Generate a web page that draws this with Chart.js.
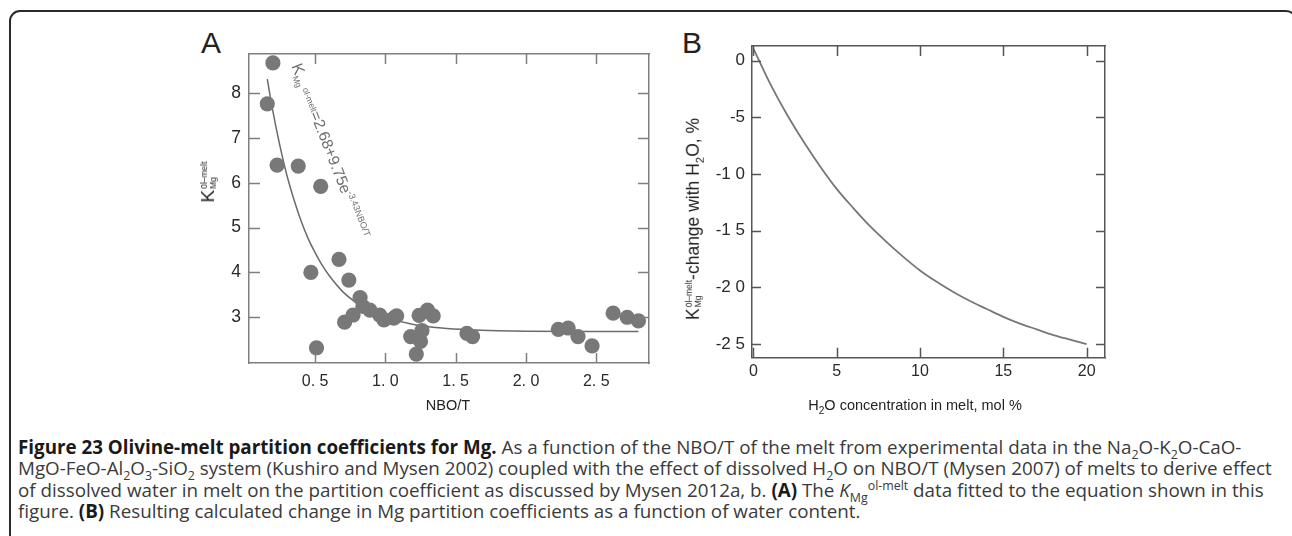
<!DOCTYPE html>
<html>
<head>
<meta charset="utf-8">
<script src="https://cdn.jsdelivr.net/npm/chart.js@4.4.0/dist/chart.umd.min.js"></script>
<style>
  html, body { margin: 0; padding: 0; background: #fff; }
  body { width: 1292px; height: 536px; position: relative; overflow: hidden; font-family: "Liberation Sans", Arial, sans-serif; color: #222; }
  #frame { position: absolute; left: 9px; top: 10px; width: 1288px; height: 700px; border: 2px solid #2a2a2a; border-radius: 11px; box-sizing: border-box; }
  #boxA { position: absolute; left: 180px; top: 20px; width: 500px; height: 400px; }
  #boxB { position: absolute; left: 660px; top: 10px; width: 480px; height: 420px; }
  .plab { position: absolute; font-size: 30px; line-height: 30px; color: #222; }
  .ytitle { position: absolute; transform: translate(-50%, -50%) rotate(-90deg); white-space: nowrap; line-height: 1; color: #222; }
  .stk { display: inline-flex; flex-direction: column; font-size: 8.5px; line-height: 9px; vertical-align: middle; margin-left: 1px; }
  .xtitle { position: absolute; width: 400px; text-align: center; line-height: 16px; color: #222; white-space: nowrap; }
  .xtitle sub { font-size: 0.7em; line-height: 0; }
  .ytitle sub { font-size: 0.65em; line-height: 0; }
  #caption { position: absolute; left: 18px; top: 437px; font-family: "Open Sans", "Noto Sans", sans-serif; font-size: 18.8px; line-height: 21.4px; color: #3a3a3a; white-space: nowrap; }
  #caption b { color: #1a1a1a; }
  #caption sub, #caption sup { font-size: 0.66em; line-height: 0; }
</style>
</head>
<body>
<div id="frame"></div>

<div class="plab" style="left:201px; top:28px;">A</div>
<div class="plab" style="left:682px; top:28px;">B</div>

<div id="boxA"><canvas id="chartA" width="500" height="400"></canvas></div>
<div id="boxB"><canvas id="chartB" width="480" height="420"></canvas></div>

<div class="ytitle" style="left:208px; top:182px; font-size:19px;">K<span class="stk"><span>0l–melt</span><span>Mg</span></span></div>
<div class="ytitle" style="left:694px; top:219px; font-size:17.5px;">K<span class="stk"><span>0l–melt</span><span>Mg</span></span>-change with H<sub>2</sub>O, %</div>

<div class="xtitle" style="left:248px; top:397px; font-size:14.5px;">NBO/T</div>
<div class="xtitle" style="left:715px; top:397px; font-size:14.5px;">H<sub>2</sub>O concentration in melt, mol %</div>

<div id="caption">
<b>Figure 23 Olivine-melt partition coefficients for Mg.</b> As a function of the NBO/T of the melt from experimental data in the Na<sub>2</sub>O-K<sub>2</sub>O-CaO-<br>
MgO-FeO-Al<sub>2</sub>O<sub>3</sub>-SiO<sub>2</sub> system (Kushiro and Mysen 2002) coupled with the effect of dissolved H<sub>2</sub>O on NBO/T (Mysen 2007) of melts to derive effect<br>
of dissolved water in melt on the partition coefficient as discussed by Mysen 2012a, b. <b>(A)</b> The <i>K</i><sub>Mg</sub><sup>ol-melt</sup> data fitted to the equation shown in this<br>
figure. <b>(B)</b> Resulting calculated change in Mg partition coefficients as a function of water content.
</div>

<script>
// ---- panel A: measured K_Mg (ol-melt) against NBO/T of the melt
var nboT = [0.20, 0.16, 0.23, 0.38, 0.54, 0.47, 0.67, 0.74, 0.51, 0.71, 0.77, 0.82, 0.84, 0.89, 0.96, 0.99, 1.06, 1.08,
            1.24, 1.30, 1.34, 1.26, 1.18, 1.25, 1.22, 1.58, 1.62, 2.23, 2.30, 2.37, 2.47, 2.62, 2.72, 2.80];
var kMg  = [8.67, 7.76, 6.39, 6.37, 5.92, 4.00, 4.29, 3.83, 2.32, 2.89, 3.05, 3.44, 3.24, 3.16, 3.05, 2.94, 2.98, 3.03,
            3.04, 3.16, 3.03, 2.70, 2.57, 2.46, 2.18, 2.64, 2.57, 2.73, 2.76, 2.57, 2.36, 3.09, 3.00, 2.92];

// fitted curve as drawn (K = 2.68 + 9.75 e^(-3.43 NBO/T))
var fitX = [0.16, 0.20, 0.25, 0.30, 0.35, 0.40, 0.45, 0.50, 0.55, 0.60, 0.70, 0.80, 0.90, 1.00, 1.20, 1.40, 1.60, 1.80, 2.00, 2.40, 2.80];
var fitY = [8.31, 7.59, 6.82, 6.16, 5.62, 5.15, 4.76, 4.44, 4.16, 3.93, 3.56, 3.31, 3.12, 3.00, 2.84, 2.76, 2.72, 2.70, 2.69, 2.68, 2.68];

var xTicksA = [0.5, 1.0, 1.5, 2.0, 2.5];
var xLabelsA = ["0. 5", "1. 0", "1. 5", "2. 0", "2. 5"];
var yTicksA = [3, 4, 5, 6, 7, 8];
var yLabelsA = ["3", "4", "5", "6", "7", "8"];

// ---- panel B: change of K_Mg with dissolved water
var h2o = [0, 1, 2, 3, 4, 5, 6, 7, 8, 9, 10, 11, 12, 13, 14, 15, 16, 17, 18, 19, 20];
var dK  = [1.1, -2.0, -4.7, -7.1, -9.3, -11.3, -13.0, -14.6, -16.0, -17.3, -18.5, -19.5, -20.4, -21.2, -21.9, -22.6, -23.2, -23.7, -24.2, -24.6, -25.0];

var xTicksB = [0, 5, 10, 15, 20];
var xLabelsB = ["0", "5", "10", "15", "20"];
var yTicksB = [0, -5, -10, -15, -20, -25];
var yLabelsB = ["0", "-5", "-1 0", "-1 5", "-2 0", "-2 5"];

var FONT = '"Liberation Sans", Arial, sans-serif';

// tick marks pointing into the plot, on all four sides
var inwardTicks = {
  id: "inwardTicks",
  afterDraw: function (chart, args, o) {
    var ctx = chart.ctx, a = chart.chartArea, x = chart.scales.x, y = chart.scales.y;
    ctx.save();
    ctx.strokeStyle = o.color;
    ctx.lineWidth = o.width;
    ctx.beginPath();
    x.ticks.forEach(function (t) {
      var px = Math.round(x.getPixelForValue(t.value)) + 0.5;
      ctx.moveTo(px, a.bottom); ctx.lineTo(px, a.bottom - o.lenX);
      ctx.moveTo(px, a.top); ctx.lineTo(px, a.top + o.lenX);
    });
    y.ticks.forEach(function (t) {
      var py = Math.round(y.getPixelForValue(t.value)) + 0.5;
      ctx.moveTo(a.left, py); ctx.lineTo(a.left + o.lenY, py);
      ctx.moveTo(a.right, py); ctx.lineTo(a.right - o.lenY, py);
    });
    ctx.stroke();
    ctx.restore();
  }
};

// equation written along the fitted curve
var fitLabel = {
  id: "fitLabel",
  afterDatasetsDraw: function (chart, args, o) {
    if (!o.parts) return;
    var ctx = chart.ctx;
    var px = chart.scales.x.getPixelForValue(o.at[0]);
    var py = chart.scales.y.getPixelForValue(o.at[1]);
    ctx.save();
    ctx.translate(px, py);
    ctx.rotate(o.angle * Math.PI / 180);
    ctx.fillStyle = o.color;
    ctx.textBaseline = "alphabetic";
    var cx = 0;
    o.parts.forEach(function (p) {
      ctx.font = p.size + "px " + FONT;
      ctx.fillText(p.text, cx, p.dy);
      cx += ctx.measureText(p.text).width + (p.gap || 0);
    });
    ctx.restore();
  }
};

function fixedTicks(vals) {
  return function (s) { s.ticks = vals.map(function (v) { return { value: v }; }); };
}

function frameAxis(pos, min, max, color) {
  return {
    type: "linear", position: pos, min: min, max: max,
    ticks: { display: false },
    grid: { display: true, drawOnChartArea: false, drawTicks: false },
    border: { color: color, width: 1.5 },
    afterFit: function (s) { if (pos === "top") s.height = 0; else s.width = 0; }
  };
}

// ---------------- chart A
new Chart(document.getElementById("chartA"), {
  type: "scatter",
  data: {
    datasets: [
      {
        label: "K_Mg",
        data: nboT.map(function (v, i) { return { x: v, y: kMg[i] }; }),
        pointRadius: 7.6,
        pointBackgroundColor: "#787878",
        pointBorderWidth: 0,
        order: 1
      },
      {
        type: "line",
        label: "fit",
        data: fitX.map(function (v, i) { return { x: v, y: fitY[i] }; }),
        borderColor: "#6b6b6b",
        borderWidth: 1.5,
        pointRadius: 0,
        fill: false,
        cubicInterpolationMode: "monotone",
        order: 2
      }
    ]
  },
  options: {
    responsive: false,
    animation: false,
    devicePixelRatio: 1,
    layout: { padding: { top: 34, right: 31, left: 0, bottom: 0 } },
    plugins: {
      legend: { display: false },
      tooltip: { enabled: false },
      inwardTicks: { color: "#7f7f7f", width: 1.5, lenX: 10, lenY: 11 },
      fitLabel: {
        at: [0.33, 8.6], angle: 68.5, color: "#6e6e6e",
        parts: [
          { text: "K", size: 16, dy: 0 },
          { text: "Mg", size: 8.5, dy: 3, gap: 3 },
          { text: "ol-melt", size: 8.5, dy: -2 },
          { text: "=2.68+9.75e", size: 15.5, dy: 0 },
          { text: "-3.43NBO/T", size: 9, dy: -6 }
        ]
      }
    },
    scales: {
      x: {
        type: "linear", position: "bottom", min: 0.03, max: 2.875,
        afterBuildTicks: fixedTicks(xTicksA),
        afterFit: function (s) { s.height = 57; },
        ticks: {
          autoSkip: false, maxRotation: 0, padding: 9, color: "#2a2a2a",
          font: { family: FONT, size: 16 },
          callback: function (v, i) { return xLabelsA[i]; }
        },
        grid: { display: true, drawOnChartArea: false, drawTicks: false },
        border: { color: "#7f7f7f", width: 1.5 }
      },
      y: {
        type: "linear", position: "left", min: 1.98, max: 8.87,
        afterBuildTicks: fixedTicks(yTicksA),
        afterFit: function (s) { s.width = 69; },
        ticks: {
          autoSkip: false, padding: 8, color: "#2a2a2a",
          font: { family: FONT, size: 17.5 },
          callback: function (v, i) { return yLabelsA[i]; }
        },
        grid: { display: true, drawOnChartArea: false, drawTicks: false },
        border: { color: "#7f7f7f", width: 1.5 }
      },
      x2: frameAxis("top", 0.03, 2.875, "#7f7f7f"),
      y2: frameAxis("right", 1.98, 8.87, "#7f7f7f")
    }
  },
  plugins: [inwardTicks, fitLabel]
});

// ---------------- chart B
new Chart(document.getElementById("chartB"), {
  type: "line",
  data: {
    datasets: [
      {
        label: "change",
        data: h2o.map(function (v, i) { return { x: v, y: dK[i] }; }),
        borderColor: "#777777",
        borderWidth: 1.8,
        pointRadius: 0,
        fill: false,
        cubicInterpolationMode: "monotone"
      }
    ]
  },
  options: {
    responsive: false,
    animation: false,
    devicePixelRatio: 1,
    layout: { padding: { top: 36, right: 35, left: 0, bottom: 0 } },
    plugins: {
      legend: { display: false },
      tooltip: { enabled: false },
      inwardTicks: { color: "#555555", width: 1.5, lenX: 10, lenY: 9 }
    },
    scales: {
      x: {
        type: "linear", position: "bottom", min: -0.08, max: 21.1,
        afterBuildTicks: fixedTicks(xTicksB),
        afterFit: function (s) { s.height = 72.3; },
        ticks: {
          autoSkip: false, maxRotation: 0, padding: 4, color: "#2a2a2a",
          font: { family: FONT, size: 16 },
          callback: function (v, i) { return xLabelsB[i]; }
        },
        grid: { display: true, drawOnChartArea: false, drawTicks: false },
        border: { color: "#555555", width: 1.5 }
      },
      y: {
        type: "linear", position: "left", min: -26.2, max: 1.3,
        afterBuildTicks: fixedTicks(yTicksB),
        afterFit: function (s) { s.width = 92; },
        ticks: {
          autoSkip: false, padding: 7, color: "#2a2a2a",
          font: { family: FONT, size: 17 },
          callback: function (v, i) { return yLabelsB[i]; }
        },
        grid: { display: true, drawOnChartArea: false, drawTicks: false },
        border: { color: "#555555", width: 1.5 }
      },
      x2: frameAxis("top", -0.08, 21.1, "#555555"),
      y2: frameAxis("right", -26.2, 1.3, "#555555")
    }
  },
  plugins: [inwardTicks]
});
</script>
</body>
</html>
